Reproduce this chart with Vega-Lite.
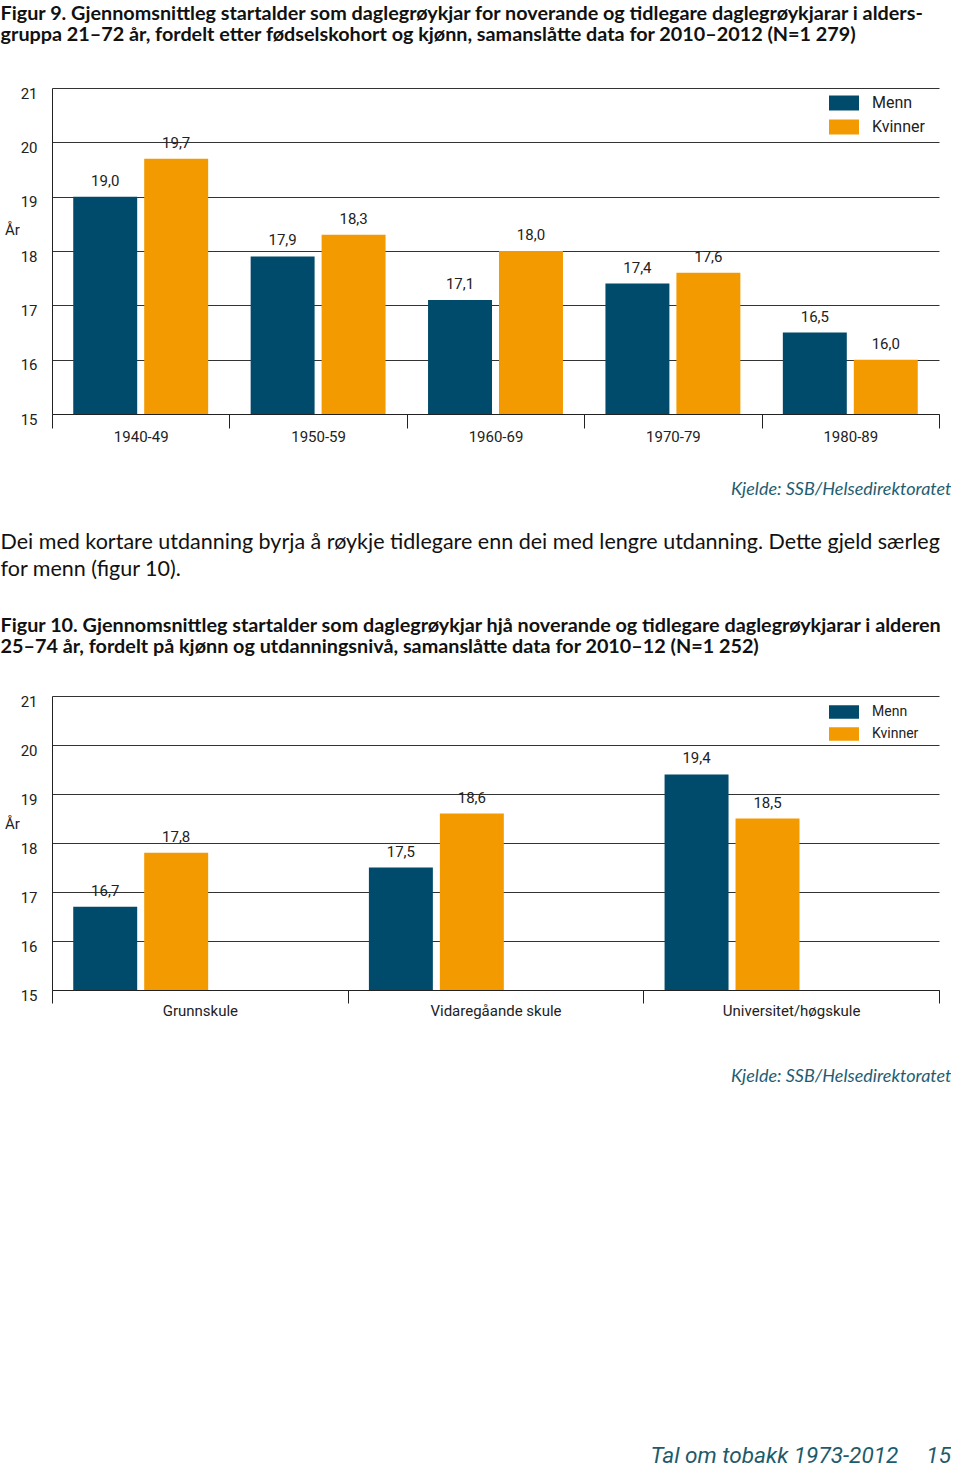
{
  "$schema": "https://vega.github.io/schema/vega-lite/v6.json",
  "padding": {"left": 0, "top": 4, "right": 0, "bottom": 0},
  "background": "white",
  "config": {
    "view": {"stroke": null},
    "font": "Roboto",
    "axis": {"labelColor": "#222", "domainColor": "#222", "tickColor": "#222", "gridColor": "#333", "gridOpacity": 1, "domainWidth": 1, "gridWidth": 1}
  },
  "resolve": {"scale": {"color": "independent"}, "legend": {"color": "independent"}},
  "title": {"text": "Tal om tobakk 1973-2012\u2003 15", "orient": "bottom", "anchor": "end", "frame": "bounds", "offset": 360, "fontSize": 22.6, "fontStyle": "italic", "fontWeight": "normal", "color": "#1d5b6c", "font": "Roboto"},
  "spacing": 33,
  "vconcat": [
    {
      "title": {"text": ["Figur 9. Gjennomsnittleg startalder som daglegrøykjar for noverande og tidlegare daglegrøykjarar i alders-", "gruppa 21–72 år, fordelt etter fødselskohort og kjønn, samanslåtte data for 2010–2012 (N=1 279)"], "anchor": "start", "frame": "bounds", "font": "Lato", "fontSize": 19.8, "fontWeight": "bold", "lineHeight": 21, "offset": 41, "dx": -4, "color": "#111"},
      "width": 887,
      "height": 326,
      "data": {"values": [
        {"kohort": "1940-49", "kjonn": "Menn", "verdi": 19.0, "label": "19,0"},
        {"kohort": "1940-49", "kjonn": "Kvinner", "verdi": 19.7, "label": "19,7"},
        {"kohort": "1950-59", "kjonn": "Menn", "verdi": 17.9, "label": "17,9"},
        {"kohort": "1950-59", "kjonn": "Kvinner", "verdi": 18.3, "label": "18,3"},
        {"kohort": "1960-69", "kjonn": "Menn", "verdi": 17.1, "label": "17,1"},
        {"kohort": "1960-69", "kjonn": "Kvinner", "verdi": 18.0, "label": "18,0"},
        {"kohort": "1970-79", "kjonn": "Menn", "verdi": 17.4, "label": "17,4"},
        {"kohort": "1970-79", "kjonn": "Kvinner", "verdi": 17.6, "label": "17,6"},
        {"kohort": "1980-89", "kjonn": "Menn", "verdi": 16.5, "label": "16,5"},
        {"kohort": "1980-89", "kjonn": "Kvinner", "verdi": 16.0, "label": "16,0"}
      ]},
      "encoding": {
        "x": {"field": "kohort", "type": "nominal", "sort": null, "scale": {"paddingInner": 0, "paddingOuter": 0},
          "axis": {"title": "Kjelde: SSB/Helsedirektoratet", "tickBand": "extent", "tickSize": 14, "labelFontSize": 15, "labelPadding": 1, "labelAngle": 0, "titleFont": "Lato", "titleFontStyle": "italic", "titleFontWeight": "normal", "titleColor": "#1f5e72", "titleFontSize": 18, "titleAlign": "right", "titleX": 899, "titleY": 75, "titleBaseline": "middle", "grid": false}},
        "xOffset": {"field": "kjonn", "sort": ["Menn", "Kvinner"], "scale": {"paddingInner": 0.0986, "paddingOuter": 0.2993}},
        "y": {"field": "verdi", "type": "quantitative", "scale": {"domain": [15, 21], "nice": false, "zero": false},
          "axis": {"values": [15, 16, 17, 18, 19, 20, 21], "title": "År", "titleAngle": 0, "titleX": -40, "titleY": 141, "titleAlign": "center", "titleBaseline": "middle", "titleFontWeight": "normal", "titleFontSize": 15, "titleColor": "#222", "labelFontSize": 15, "labelPadding": 15, "labelOffset": 5, "ticks": false, "grid": true}}
      },
      "layer": [
        {
          "mark": {"type": "bar"},
          "encoding": {
            "y2": {"datum": 15},
            "color": {"field": "kjonn", "type": "nominal", "sort": ["Menn", "Kvinner"], "scale": {"domain": ["Menn", "Kvinner"], "range": ["#004b6b", "#f39a00"]},
              "legend": {"title": null, "orient": "none", "legendX": 777, "legendY": 0, "symbolType": "M-1,-0.5H1V0.5H-1Z", "symbolSize": 900, "symbolStrokeWidth": 0, "symbolOpacity": 1, "labelFontSize": 16, "labelOffset": 13, "rowPadding": 1, "padding": 0, "labelColor": "#222"}}
          }
        },
        {
          "mark": {"type": "text", "baseline": "bottom", "dy": -8, "fontSize": 15, "color": "#222"},
          "encoding": {"text": {"field": "label"}}
        }
      ]
    },
    {
      "title": {"text": ["Dei med kortare utdanning byrja å røykje tidlegare enn dei med lengre utdanning. Dette gjeld særleg", "for menn (figur 10)."], "subtitle": ["Figur 10. Gjennomsnittleg startalder som daglegrøykjar hjå noverande og tidlegare daglegrøykjarar i alderen", "25–74 år, fordelt på kjønn og utdanningsnivå, samanslåtte data for 2010–12 (N=1 252)"], "anchor": "start", "frame": "bounds", "font": "Lato", "fontSize": 21.5, "fontWeight": "normal", "lineHeight": 27, "color": "#111", "subtitleFont": "Lato", "subtitleFontSize": 19.8, "subtitleFontWeight": "bold", "subtitleLineHeight": 21, "subtitleColor": "#111", "subtitlePadding": 36, "offset": 37, "dx": -4},
      "width": 887,
      "height": 294,
      "data": {"values": [
        {"utdanning": "Grunnskule", "kjonn": "Menn", "verdi": 16.7, "label": "16,7"},
        {"utdanning": "Grunnskule", "kjonn": "Kvinner", "verdi": 17.8, "label": "17,8"},
        {"utdanning": "Vidaregåande skule", "kjonn": "Menn", "verdi": 17.5, "label": "17,5"},
        {"utdanning": "Vidaregåande skule", "kjonn": "Kvinner", "verdi": 18.6, "label": "18,6"},
        {"utdanning": "Universitet/høgskule", "kjonn": "Menn", "verdi": 19.4, "label": "19,4"},
        {"utdanning": "Universitet/høgskule", "kjonn": "Kvinner", "verdi": 18.5, "label": "18,5"}
      ]},
      "encoding": {
        "x": {"field": "utdanning", "type": "nominal", "sort": null, "scale": {"paddingInner": 0, "paddingOuter": 0},
          "axis": {"title": "Kjelde: SSB/Helsedirektoratet", "tickBand": "extent", "tickSize": 13, "labelFontSize": 15, "labelPadding": 0, "labelAngle": 0, "titleFont": "Lato", "titleFontStyle": "italic", "titleFontWeight": "normal", "titleColor": "#1f5e72", "titleFontSize": 18, "titleAlign": "right", "titleX": 899, "titleY": 86, "titleBaseline": "middle", "grid": false}},
        "xOffset": {"field": "kjonn", "sort": ["Menn", "Kvinner"], "scale": {"paddingInner": 0.1017, "paddingOuter": 0.304}},
        "y": {"field": "verdi", "type": "quantitative", "scale": {"domain": [15, 21], "nice": false, "zero": false},
          "axis": {"values": [15, 16, 17, 18, 19, 20, 21], "title": "År", "titleAngle": 0, "titleX": -40, "titleY": 127, "titleAlign": "center", "titleBaseline": "middle", "titleFontWeight": "normal", "titleFontSize": 15, "titleColor": "#222", "labelFontSize": 15, "labelPadding": 15, "labelOffset": 5, "ticks": false, "grid": true}}
      },
      "layer": [
        {
          "mark": {"type": "bar"},
          "encoding": {
            "y2": {"datum": 15},
            "color": {"field": "kjonn", "type": "nominal", "sort": ["Menn", "Kvinner"], "scale": {"domain": ["Menn", "Kvinner"], "range": ["#004b6b", "#f39a00"]},
              "legend": {"title": null, "orient": "none", "legendX": 777, "legendY": 1, "symbolType": "M-1,-0.45H1V0.45H-1Z", "symbolSize": 900, "symbolStrokeWidth": 0, "symbolOpacity": 1, "labelFontSize": 14, "labelOffset": 13, "rowPadding": 0, "padding": 0, "labelColor": "#222"}}
          }
        },
        {
          "mark": {"type": "text", "baseline": "bottom", "dy": -8, "fontSize": 15, "color": "#222"},
          "encoding": {"text": {"field": "label"}}
        }
      ]
    }
  ]
}
